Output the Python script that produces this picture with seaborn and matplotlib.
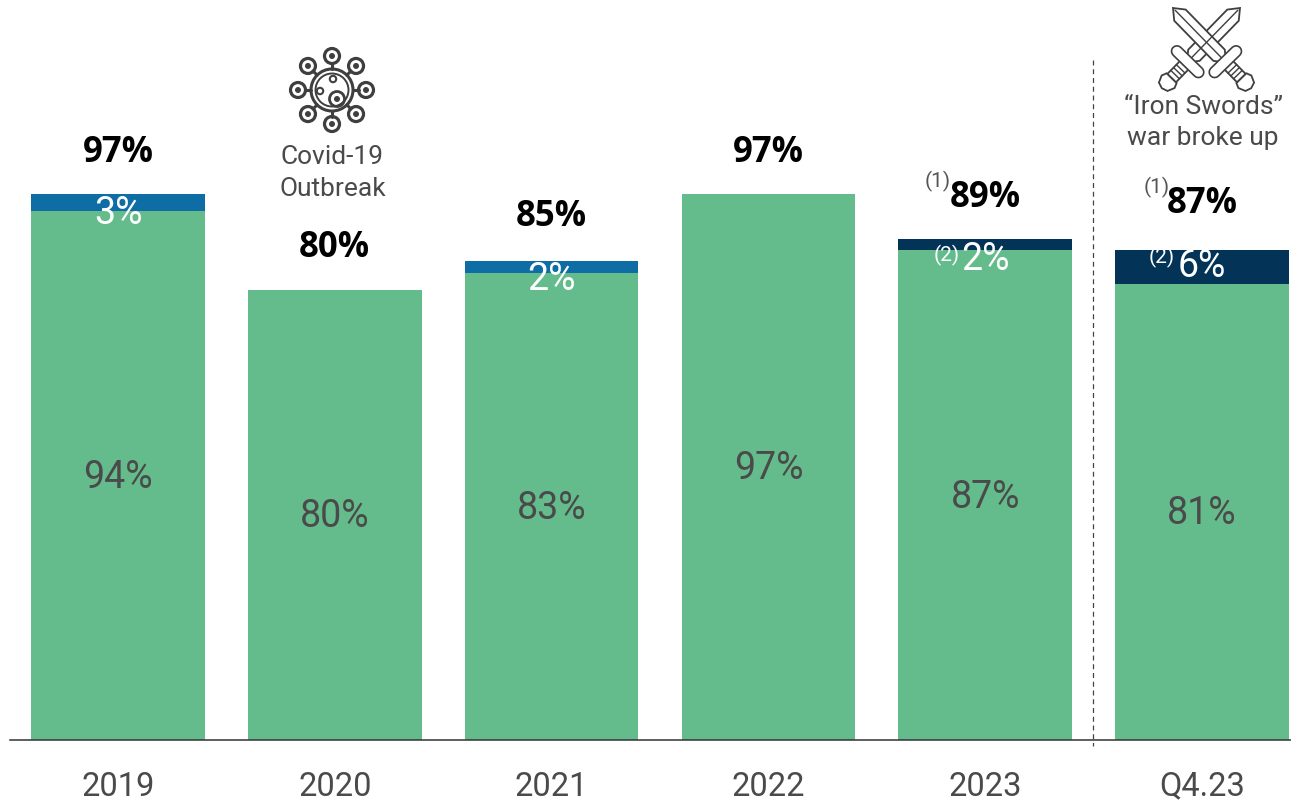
import numpy as np
import pandas as pd
import seaborn as sns
import matplotlib
matplotlib.use("Agg")
import matplotlib.pyplot as plt
from matplotlib.patches import Circle, Polygon
from matplotlib.transforms import Affine2D

# Occupancy by period, split into three stacked components
periods = ["2019", "2020", "2021", "2022", "2023", "Q4.23"]
base_share = [94, 80, 83, 97, 87, 81]
mid_share = [3, 0, 2, 0, 0, 0]
war_share = [0, 0, 0, 0, 2, 6]
total_labels = ["97%", "80%", "85%", "97%", "89%", "87%"]
base_labels = ["94%", "80%", "83%", "97%", "87%", "81%"]
upper_labels = ["3%", "", "2%", "", "2%", "6%"]

GREEN = "#64BC8C"
BLUE = "#0F6DA6"
NAVY = "#033357"
INK = "#4a4a4a"
W, H = 1291, 801

sns.set_theme(style="white")
plt.rcParams["font.family"] = ["Roboto", "DejaVu Sans"]

df = pd.DataFrame({"period": periods, "base": base_share, "mid": mid_share, "war": war_share})

fig = plt.figure(figsize=(W / 100, H / 100), dpi=100)
ax = fig.add_axes([10 / W, (H - 740) / H, (W - 10) / W, 740 / H])
# Pixel coordinates with the origin at the top left, used for decorations
px = Affine2D().scale(1, -1).translate(0, H)

bar_style = dict(saturation=1, width=0.8, linewidth=0, edgecolor="none", ax=ax)
sns.barplot(data=df, x="period", y="base", color=GREEN, **bar_style)
sns.barplot(data=df, x="period", y="mid", bottom=df["base"], color=BLUE, **bar_style)
sns.barplot(data=df, x="period", y="war", bottom=df["base"] + df["mid"], color=NAVY, **bar_style)

ax.set_xlim((10 - 118) / 216.8, (W - 118) / 216.8)
ax.set_ylim(0, 740 / 5.63)
ax.set_xlabel("")
ax.set_ylabel("")
ax.set_yticks([])
ax.tick_params(axis="x", length=0, pad=22, labelsize=23.5, labelcolor=INK)
sns.despine(ax=ax, left=True)
ax.spines["bottom"].set_color("#333333")
ax.spines["bottom"].set_linewidth(1.1)

total_gap = [41, 42, 44, 41, 41, 46]
upper_shift = [-11, 0, -12, 0, -15, 1]
for i in range(len(periods)):
    base, mid, war = base_share[i], mid_share[i], war_share[i]
    top = base + mid + war
    ax.annotate(total_labels[i], (i, top), xytext=(0, total_gap[i]), textcoords="offset pixels",
                ha="center", va="center", fontsize=25, fontweight="bold",
                family=["Open Sans", "DejaVu Sans"], color="black")
    ax.annotate(base_labels[i], (i, base / 2), xytext=(0, -2), textcoords="offset pixels",
                ha="center", va="center", fontsize=27, color=INK)
    if upper_labels[i]:
        ax.annotate(upper_labels[i], (i, base + (mid + war) / 2), xytext=(0, upper_shift[i]),
                    textcoords="offset pixels", ha="center", va="center",
                    fontsize=27, color="white")

# Footnote markers beside the last two periods
for x, y, s, c in [(938, 181, "(1)", "#555555"), (1157, 187, "(1)", "#555555"),
                   (947, 255, "(2)", "white"), (1162, 257, "(2)", "white")]:
    ax.text(x, y, s, transform=px, ha="center", va="center", fontsize=15,
            color=c, clip_on=False)

# Event captions
caption = dict(transform=px, ha="center", va="center", fontsize=19, color=INK)
ax.text(332.5, 157.5, "Covid-19", **caption)
ax.text(332.5, 189.5, "Outbreak", **caption)
ax.text(1203, 106.5, "\u201cIron Swords\u201d", **caption)
ax.text(1203, 138.5, "war broke up", **caption)

# Divider in front of the latest quarter
ax.plot([1093, 1093], [60, 746], transform=px, color="#444444", lw=0.9,
        dashes=(4, 3), clip_on=False)


def ring(x, y, r, lw=2.0, fc="none"):
    ax.add_patch(Circle((x, y), r, transform=px, fc=fc, ec="#3f3f3f", lw=lw, clip_on=False))


def virus_icon(cx, cy):
    ring(cx, cy, 21, 2.2)
    ring(cx, cy, 16.5, 1.4)
    for k in range(8):
        a = k * np.pi / 4
        ux, uy = np.cos(a), np.sin(a)
        ax.plot([cx + 21 * ux, cx + 27 * ux], [cy + 21 * uy, cy + 27 * uy], transform=px,
                color="#3f3f3f", lw=2.2, clip_on=False)
        ring(cx + 34 * ux, cy + 34 * uy, 7.5, 2.3, fc="white")
        ring(cx + 34 * ux, cy + 34 * uy, 2.4, 0.8, fc="#3f3f3f")
    ring(cx + 5, cy + 9, 7.5, 2.0)
    ring(cx + 5, cy + 9, 2.4, 0.8, fc="#3f3f3f")
    ring(cx - 12, cy + 1, 3.2, 1.5)
    ring(cx + 1, cy - 11, 3.2, 1.5)


def sword_icon(tip, pommel):
    tip, pommel = np.array(tip, float), np.array(pommel, float)
    d = (pommel - tip) / np.linalg.norm(pommel - tip)
    n = np.array([-d[1], d[0]])
    pt = lambda t, s: tip + d * t + n * s
    ink = "#3f3f3f"
    blade = [pt(0, 0), pt(10, -8), pt(66, -8), pt(76, 0), pt(66, 8), pt(10, 8)]
    ax.add_patch(Polygon(blade, closed=True, transform=px, fc="white", ec=ink, lw=1.3, clip_on=False))
    a, b = pt(3, 0), pt(70, 0)
    ax.plot([a[0], b[0]], [a[1], b[1]], transform=px, color=ink, lw=1.0, clip_on=False)
    handle = [pt(80, -6), pt(98, -6), pt(98, 6), pt(80, 6)]
    ax.add_patch(Polygon(handle, closed=True, transform=px, fc="white", ec=ink, lw=1.3, clip_on=False))
    for t in (85, 89, 93):
        a, b = pt(t, -6), pt(t, 6)
        ax.plot([a[0], b[0]], [a[1], b[1]], transform=px, color=ink, lw=1.0, clip_on=False)
    pom = [pt(98, -7), pt(103, -9), pt(110, -6), pt(112, 0), pt(110, 6), pt(103, 9), pt(98, 7)]
    ax.add_patch(Polygon(pom, closed=True, transform=px, fc="white", ec=ink, lw=1.3, clip_on=False))
    a, b = pt(75, -15), pt(75, 15)
    ax.plot([a[0], b[0]], [a[1], b[1]], transform=px, color=ink, lw=9,
            solid_capstyle="round", clip_on=False)
    ax.plot([a[0], b[0]], [a[1], b[1]], transform=px, color="white", lw=6.6,
            solid_capstyle="round", clip_on=False)


virus_icon(332, 90)
sword_icon((1240, 8), (1163, 87))
sword_icon((1173, 8), (1250, 87))

fig.savefig("out.png", dpi=100)
